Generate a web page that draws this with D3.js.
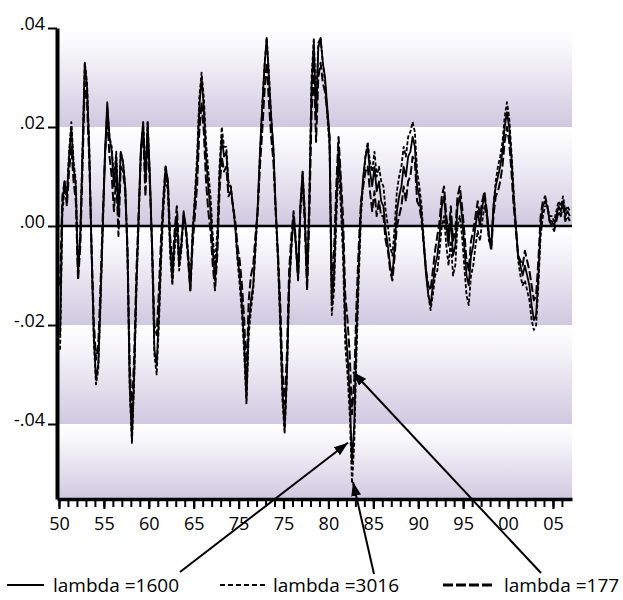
<!DOCTYPE html>
<html><head><meta charset="utf-8">
<script src="https://cdn.jsdelivr.net/npm/d3@7"></script>
<style>
body{margin:0;background:#fff}
svg{display:block}
text{font-family:"Open Sans",sans-serif;fill:#000}
</style>
</head><body>
<svg id="chart" width="623" height="600"></svg>
<script>
// ---- DATA (quarterly, 1950Q1 - 2006Q4) ----
const startYear = 1950;
const s1600 = [
 -0.022, 0.004, 0.009, 0.006,   0.014, 0.020, 0.012, 0.008,
 -0.010,-0.002, 0.015, 0.033,   0.028, 0.015,-0.005,-0.022,
 -0.031,-0.028,-0.015, 0.000,   0.015, 0.025, 0.018, 0.015,
  0.008, 0.014, 0.002, 0.015,   0.013, 0.008,-0.005,-0.032,
 -0.043,-0.030,-0.012, 0.002,   0.016, 0.021, 0.009, 0.021,
  0.010,-0.005,-0.025,-0.028,  -0.018,-0.005, 0.005, 0.012,
  0.009,-0.004,-0.011,-0.003,   0.002,-0.008,-0.004, 0.003,
  0.000,-0.006,-0.013,-0.002,   0.005, 0.012, 0.024, 0.030,
  0.024, 0.014, 0.008, 0.003,  -0.005,-0.011,-0.004, 0.010,
  0.018, 0.014, 0.015, 0.008,   0.008, 0.004, 0.000,-0.006,
 -0.010,-0.016,-0.024,-0.035,  -0.020,-0.015,-0.012,-0.004,
  0.004, 0.015, 0.024, 0.032,   0.038, 0.030, 0.022, 0.016,
  0.004,-0.006,-0.018,-0.033,  -0.041,-0.030,-0.012,-0.004,
  0.002,-0.004,-0.011, 0.004,   0.011, 0.002,-0.012, 0.005,
  0.028, 0.037, 0.022, 0.036,   0.038, 0.033, 0.030, 0.024,
  0.018,-0.016,-0.010, 0.004,   0.016, 0.008,-0.002,-0.020,
 -0.026,-0.034,-0.048,-0.040,  -0.022,-0.008, 0.004, 0.010,
  0.014, 0.016, 0.011, 0.008,   0.012, 0.007, 0.009, 0.005,
  0.004,-0.001,-0.004,-0.008,  -0.010,-0.004, 0.003, 0.006,
  0.008, 0.012, 0.010, 0.014,   0.015, 0.018, 0.016, 0.008,
  0.006, 0.002,-0.004,-0.010,  -0.014,-0.016,-0.012,-0.008,
 -0.006,-0.002, 0.004, 0.006,   0.000,-0.004, 0.002,-0.006,
 -0.004, 0.004, 0.006, 0.002,  -0.004,-0.010,-0.012,-0.006,
 -0.004, 0.000, 0.003, 0.000,   0.004, 0.006, 0.003,-0.002,
 -0.004, 0.004, 0.008, 0.010,   0.012, 0.015, 0.020, 0.023,
  0.020, 0.014, 0.006, 0.000,  -0.006,-0.008,-0.010,-0.008,
 -0.010,-0.012,-0.016,-0.019,  -0.018,-0.010, 0.000, 0.004,
  0.005, 0.004, 0.001, 0.001,   0.000, 0.002, 0.004, 0.003,
  0.005, 0.002, 0.003, 0.002
];
const s3016 = [
 -0.025, 0.002, 0.008, 0.006,   0.015, 0.021, 0.013, 0.009,
 -0.009,-0.001, 0.016, 0.033,   0.029, 0.016,-0.005,-0.023,
 -0.032,-0.029,-0.016,-0.001,   0.014, 0.024, 0.018, 0.016,
  0.009, 0.015, 0.003, 0.015,   0.013, 0.008,-0.006,-0.033,
 -0.044,-0.031,-0.013, 0.001,   0.015, 0.021, 0.010, 0.021,
  0.010,-0.006,-0.026,-0.030,  -0.020,-0.007, 0.003, 0.010,
  0.007,-0.006,-0.012,-0.005,   0.000,-0.009,-0.005, 0.002,
  0.000,-0.005,-0.012,-0.001,   0.006, 0.014, 0.026, 0.031,
  0.026, 0.017, 0.011, 0.006,  -0.002,-0.008,-0.001, 0.012,
  0.020, 0.016, 0.016, 0.009,   0.008, 0.004, 0.000,-0.007,
 -0.012,-0.018,-0.026,-0.036,  -0.022,-0.017,-0.013,-0.005,
  0.003, 0.014, 0.024, 0.032,   0.038, 0.031, 0.022, 0.015,
  0.003,-0.007,-0.020,-0.035,  -0.042,-0.031,-0.013,-0.005,
  0.002,-0.004,-0.011, 0.004,   0.011, 0.003,-0.011, 0.007,
  0.030, 0.038, 0.024, 0.037,   0.038, 0.033, 0.029, 0.022,
  0.016,-0.018,-0.013, 0.001,   0.012, 0.004,-0.006,-0.024,
 -0.030,-0.038,-0.052,-0.044,  -0.026,-0.011, 0.002, 0.009,
  0.014, 0.017, 0.013, 0.011,   0.015, 0.010, 0.012, 0.009,
  0.008, 0.003, 0.000,-0.004,  -0.006, 0.000, 0.007, 0.010,
  0.012, 0.016, 0.014, 0.018,   0.019, 0.021, 0.019, 0.011,
  0.008, 0.004,-0.003,-0.009,  -0.014,-0.017,-0.014,-0.010,
 -0.009,-0.005, 0.000, 0.002,  -0.004,-0.008,-0.003,-0.010,
 -0.008, 0.000, 0.002,-0.002,  -0.008,-0.014,-0.016,-0.010,
 -0.008,-0.004,-0.001,-0.003,   0.001, 0.004, 0.002,-0.003,
 -0.004, 0.004, 0.009, 0.012,   0.014, 0.017, 0.022, 0.025,
  0.022, 0.015, 0.007, 0.000,  -0.007,-0.010,-0.012,-0.011,
 -0.013,-0.015,-0.019,-0.021,  -0.020,-0.012,-0.002, 0.002,
  0.004, 0.004, 0.002, 0.002,   0.001, 0.003, 0.005, 0.004,
  0.006, 0.003, 0.004, 0.003
];
const s177 = [
 -0.012, 0.006, 0.009, 0.004,   0.011, 0.016, 0.009, 0.005,
 -0.011,-0.004, 0.012, 0.029,   0.025, 0.013,-0.004,-0.019,
 -0.027,-0.024,-0.012, 0.002,   0.014, 0.022, 0.014, 0.010,
  0.003, 0.010,-0.002, 0.012,   0.011, 0.007,-0.004,-0.028,
 -0.038,-0.026,-0.009, 0.003,   0.015, 0.019, 0.006, 0.018,
  0.008,-0.004,-0.020,-0.022,  -0.013,-0.002, 0.006, 0.012,
  0.009,-0.002,-0.008,-0.001,   0.004,-0.006,-0.003, 0.002,
 -0.001,-0.007,-0.013,-0.004,   0.002, 0.008, 0.019, 0.025,
  0.019, 0.009, 0.003,-0.001,  -0.008,-0.013,-0.006, 0.007,
  0.014, 0.011, 0.012, 0.006,   0.007, 0.004, 0.001,-0.004,
 -0.007,-0.012,-0.019,-0.030,  -0.015,-0.010,-0.008,-0.002,
  0.003, 0.012, 0.019, 0.027,   0.033, 0.025, 0.018, 0.013,
  0.003,-0.005,-0.015,-0.029,  -0.036,-0.026,-0.009,-0.002,
  0.003,-0.003,-0.010, 0.003,   0.009, 0.000,-0.013, 0.002,
  0.023, 0.032, 0.017, 0.030,   0.033, 0.029, 0.027, 0.023,
  0.018,-0.012,-0.005, 0.008,   0.018, 0.010, 0.002,-0.014,
 -0.019,-0.026,-0.038,-0.031,  -0.016,-0.004, 0.005, 0.008,
  0.011, 0.012, 0.007, 0.003,   0.007, 0.002, 0.005, 0.002,
  0.002,-0.003,-0.005,-0.009,  -0.011,-0.006, 0.000, 0.002,
  0.004, 0.008, 0.005, 0.009,   0.010, 0.014, 0.013, 0.005,
  0.004, 0.001,-0.004,-0.009,  -0.012,-0.013,-0.009,-0.005,
 -0.002, 0.001, 0.006, 0.008,   0.002,-0.002, 0.004,-0.003,
 -0.001, 0.006, 0.008, 0.004,  -0.001,-0.007,-0.009,-0.003,
 -0.001, 0.002, 0.005, 0.002,   0.005, 0.007, 0.003,-0.002,
 -0.005, 0.002, 0.006, 0.007,   0.009, 0.012, 0.017, 0.020,
  0.017, 0.011, 0.004,-0.001,  -0.006,-0.007,-0.008,-0.005,
 -0.007,-0.009,-0.012,-0.015,  -0.014,-0.007, 0.002, 0.005,
  0.006, 0.004, 0.001, 0.000,  -0.001, 0.001, 0.003, 0.002,
  0.004, 0.001, 0.002, 0.001
];
const seriesLabels = ["lambda =1600", "lambda =3016", "lambda =177"];
const yTickValues = [0.04, 0.02, 0.00, -0.02, -0.04];
const yTickLabels = [".04", ".02", ".00", "-.02", "-.04"];
const xMajorYears = [1950,1955,1960,1965,1970,1975,1980,1985,1990,1995,2000,2005];
const xTickLabels = ["50","55","60","65","75","75","80","85","90","95","00","05"];
// annotation arrow tips (data coordinates)
const arrowTipYear  = [1982.18, 1982.74, 1982.74];
const arrowTipValue = [-0.0438, -0.0517, -0.0295];

// ---- LAYOUT ----
const svg = d3.select("#chart");
const P = {left:57, right:572, top:28, bottom:499};
const x = d3.scaleLinear().domain([1949.78, 2007.12]).range([P.left, P.right]);
const y = d3.scaleLinear().domain([-0.05515, 0.04]).range([P.bottom, P.top]);
const tOf = i => startYear + i/4 + 0.125;

// gradient
const defs = svg.append("defs");
const g = defs.append("linearGradient").attr("id","band").attr("x1",0).attr("y1",0).attr("x2",0).attr("y2",1);
g.append("stop").attr("offset","0").attr("stop-color","#ffffff");
g.append("stop").attr("offset","0.2").attr("stop-color","#f8f7fb");
g.append("stop").attr("offset","1").attr("stop-color","#cfc9e0");

defs.append("marker").attr("id","ah").attr("viewBox","0 0 14 10")
  .attr("refX",14).attr("refY",5).attr("markerWidth",14).attr("markerHeight",10)
  .attr("markerUnits","userSpaceOnUse").attr("orient","auto")
  .append("path").attr("d","M0,0L14,5L0,10Z").attr("fill","#000");

// bands
const edges = yTickValues.concat([y.domain()[0]]);
const bands = d3.pairs(edges);
svg.append("g").selectAll("rect").data(bands).join("rect")
  .attr("x", P.left).attr("width", P.right - P.left)
  .attr("y", d => y(d[0])).attr("height", d => y(d[1]) - y(d[0]))
  .attr("fill","url(#band)");

// zero line
svg.append("line").attr("x1",P.left).attr("x2",P.right)
  .attr("y1",y(0)).attr("y2",y(0)).attr("stroke","#000").attr("stroke-width",2.5);

// series
const line = d3.line().x((d,i)=>x(tOf(i))).y(d=>y(d));
const styles = [
  {data:s177,  dash:"9,3", w:2.0},
  {data:s3016, dash:"4,2", w:1.8},
  {data:s1600, dash:null,  w:1.8}
];
styles.forEach(s=>{
  svg.append("path").datum(s.data).attr("d",line).attr("fill","none")
    .attr("stroke","#000").attr("stroke-width",s.w)
    .attr("stroke-dasharray",s.dash).attr("stroke-linejoin","round");
});

// y axis
const yAxis = svg.append("g").attr("transform",`translate(${P.left},0)`)
  .call(d3.axisLeft(y).tickValues(yTickValues).tickFormat((d,i)=>yTickLabels[i])
    .tickSize(9).tickSizeOuter(0).tickPadding(3));
yAxis.select(".domain").attr("stroke-width",4).attr("stroke","#000");
yAxis.selectAll(".tick line").attr("stroke-width",2);
yAxis.selectAll("text").attr("font-size",18).attr("dy","0.1em").attr("font-family","Open Sans");

// x axis minor
const xMinor = svg.append("g").attr("transform",`translate(0,${P.bottom})`)
  .call(d3.axisBottom(x).tickValues(d3.range(1950,2007)).tickFormat("").tickSize(8).tickSizeOuter(0));
xMinor.select(".domain").attr("stroke-width",3.5).attr("stroke","#000");
xMinor.selectAll(".tick line").attr("stroke-width",2);
const xMajor = svg.append("g").attr("transform",`translate(0,${P.bottom})`)
  .call(d3.axisBottom(x).tickValues(xMajorYears).tickFormat((d,i)=>xTickLabels[i]).tickSize(10).tickPadding(8).tickSizeOuter(0));
xMajor.select(".domain").remove();
xMajor.selectAll(".tick line").attr("stroke-width",2.2);
xMajor.selectAll("text").attr("font-size",18).attr("font-family","Open Sans");

// legend
const legX0 = [7, 220, 443], legX1 = [44, 267, 493], legTX = [53, 273, 504];
const legDash = [null, "5,3", "10,3"], legW = [2, 2, 3];
const legY = 585;
seriesLabels.forEach((lab,i)=>{
  svg.append("line").attr("x1",legX0[i]).attr("x2",legX1[i]).attr("y1",legY).attr("y2",legY)
    .attr("stroke","#000").attr("stroke-width",legW[i]).attr("stroke-dasharray",legDash[i]);
  svg.append("text").attr("x",legTX[i]).attr("y",legY+7).attr("font-size",19).text(lab);
});

// annotation arrows
const tails = [[180,572],[374,574],[541,573]];
tails.forEach((t,i)=>{
  svg.append("line").attr("x1",t[0]).attr("y1",t[1])
    .attr("x2",x(arrowTipYear[i])).attr("y2",y(arrowTipValue[i]))
    .attr("stroke","#000").attr("stroke-width",2).attr("marker-end","url(#ah)");
});
</script>
</body></html>
